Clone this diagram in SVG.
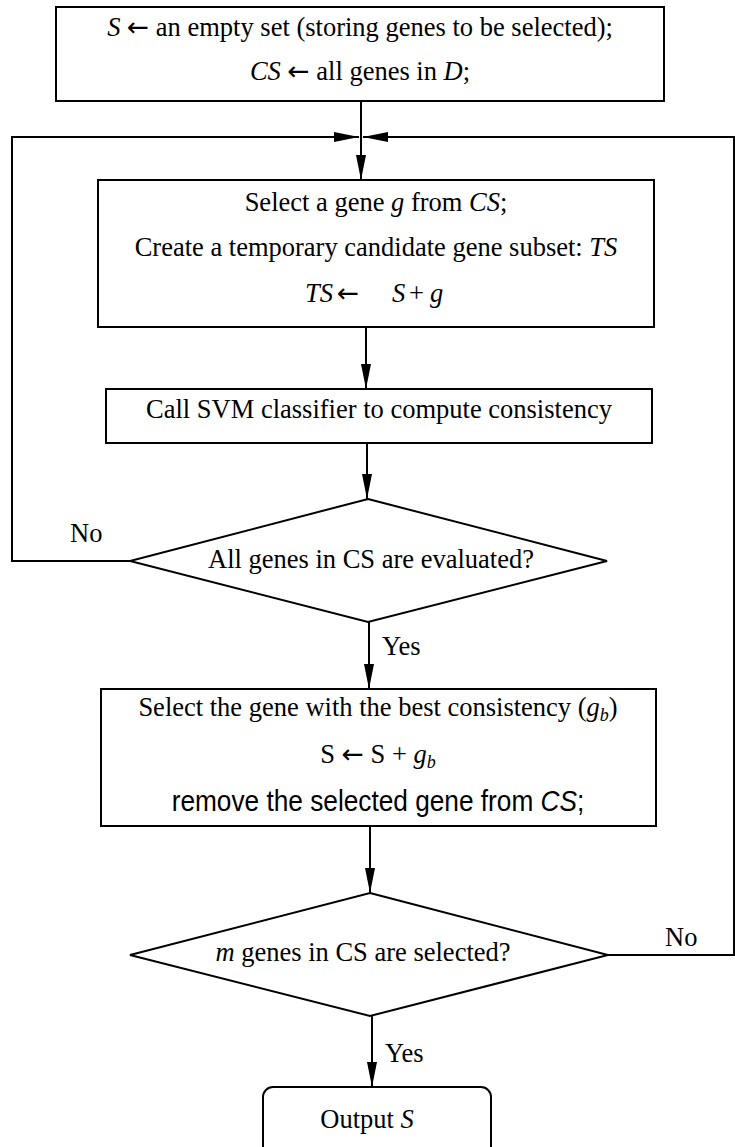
<svg xmlns="http://www.w3.org/2000/svg" width="735" height="1147" viewBox="0 0 735 1147">
<style>
.box{fill:#fff;stroke:#000;stroke-width:2}
.con{fill:none;stroke:#000;stroke-width:2}
.t{font-family:"Liberation Serif","Times New Roman",serif;font-size:26.5px;fill:#000}
.c{text-anchor:middle}
.i{font-style:italic}
.ar{font-family:"DejaVu Sans",sans-serif;font-style:normal}
.sans{font-family:"Liberation Sans",Arial,sans-serif;font-size:29px;fill:#000}
</style>
<defs>
<marker id="ah" markerUnits="userSpaceOnUse" markerWidth="25" markerHeight="10" viewBox="0 0 25 10" refX="25" refY="5" orient="auto">
<path d="M0,0 L25,5 L0,10 z" fill="#000"/>
</marker>
</defs>
<rect width="735" height="1147" fill="#fff"/>
<g id="connectors">
<path class="con" d="M361,101 V180" marker-end="url(#ah)"/>
<path class="con" d="M130,561 H12 V137 H359" marker-end="url(#ah)"/>
<path class="con" d="M608,955 H734 V137 H363" marker-end="url(#ah)"/>
<path class="con" d="M366,327 V389" marker-end="url(#ah)"/>
<path class="con" d="M367,443 V499" marker-end="url(#ah)"/>
<path class="con" d="M369,622 V689" marker-end="url(#ah)"/>
<path class="con" d="M370,826 V893" marker-end="url(#ah)"/>
<path class="con" d="M372,1016 V1087" marker-end="url(#ah)"/>
<text class="t" x="70" y="542">No</text>
<text class="t" x="665" y="946">No</text>
<text class="t" x="382" y="655">Yes</text>
<text class="t" x="385" y="1062">Yes</text>
</g>
<g id="init">
<rect class="box" x="56" y="7" width="608" height="94"/>
<text class="t c" x="360" y="36"><tspan class="i">S</tspan> <tspan class="ar">←</tspan> an empty set (storing genes to be selected);</text>
<text class="t c" x="360" y="80"><tspan class="i">CS</tspan> <tspan class="ar">←</tspan> all genes in <tspan class="i">D</tspan>;</text>
</g>
<g id="select">
<rect class="box" x="98" y="180" width="556" height="147"/>
<text class="t c" x="376" y="211">Select a gene <tspan class="i">g</tspan> from <tspan class="i">CS</tspan>;</text>
<text class="t c" x="376" y="256">Create a temporary candidate gene subset: <tspan class="i">TS</tspan></text>
<text class="t"><tspan class="i" x="305" y="302">TS</tspan><tspan class="ar" x="337" y="302">←</tspan><tspan class="i" x="392" y="302">S</tspan><tspan x="409" y="302">+</tspan><tspan class="i" x="430" y="302">g</tspan></text>
</g>
<g id="svm">
<rect class="box" x="106" y="389" width="546" height="54"/>
<text class="t c" x="379" y="418">Call SVM classifier to compute consistency</text>
</g>
<g id="eval">
<polygon class="box" points="368,499 607,561 368,622 130,561"/>
<text class="t c" x="371" y="568">All genes in CS are evaluated?</text>
</g>
<g id="best">
<rect class="box" x="101" y="689" width="555" height="137"/>
<text class="t c" x="378" y="716">Select the gene with the best consistency (<tspan class="i">g</tspan><tspan class="i" font-size="18" dy="5">b</tspan><tspan dy="-5">)</tspan></text>
<text class="t c" x="378" y="763">S <tspan class="ar">←</tspan> S + <tspan class="i">g</tspan><tspan class="i" font-size="18" dy="5">b</tspan></text>
<text class="sans c" x="0" y="0" transform="translate(378,811) scale(0.905,1)">remove the selected gene from <tspan class="i">CS</tspan>;</text>
</g>
<g id="count">
<polygon class="box" points="370,893 608,955 370,1016 130,955"/>
<text class="t c" x="363" y="961"><tspan class="i">m</tspan> genes in CS are selected?</text>
</g>
<g id="output">
<rect class="box" x="263" y="1087" width="228" height="80" rx="10"/>
<text class="t c" x="367" y="1128">Output <tspan class="i">S</tspan></text>
</g>
</svg>
